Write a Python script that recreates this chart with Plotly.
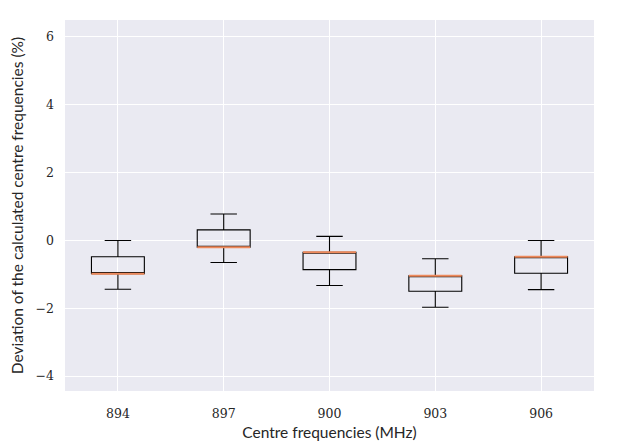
import plotly.graph_objects as go

# centre frequencies (MHz) and the box statistics of the deviation (%)
freqs = [894, 897, 900, 903, 906]
upper_whisker = [0.00, 0.78, 0.12, -0.54, 0.00]
q3 = [-0.48, 0.31, -0.35, -1.04, -0.48]
median = [-0.98, -0.20, -0.35, -1.04, -0.48]
q1 = [-0.98, -0.20, -0.86, -1.50, -0.97]
lower_whisker = [-1.44, -0.65, -1.33, -1.97, -1.45]

pos = list(range(1, len(freqs) + 1))
box_w = 0.5

fig = go.Figure()
for i, p in enumerate(pos):
    fig.add_trace(go.Box(
        x=[p], q1=[q1[i]], median=[median[i]], q3=[q3[i]],
        lowerfence=[lower_whisker[i]], upperfence=[upper_whisker[i]],
        width=box_w, whiskerwidth=0.5,
        line=dict(color="black", width=1.1),
        fillcolor="rgba(0,0,0,0)", showlegend=False, hoverinfo="skip",
    ))

# orange median lines, like matplotlib
mx, my = [], []
for p, m in zip(pos, median):
    mx += [p - box_w / 2, p + box_w / 2, None]
    my += [m, m, None]
fig.add_trace(go.Scatter(x=mx, y=my, mode="lines",
                         line=dict(color="#EE8A5C", width=2),
                         showlegend=False, hoverinfo="skip"))

# page body has an 8px margin, so the figure is a little smaller
fig.update_layout(
    width=615, height=433,
    margin=dict(l=57, r=29, t=12, b=50),
    paper_bgcolor="white", plot_bgcolor="#EAEAF2",
    font=dict(family="DejaVu Serif", size=12.5, color="#262626"),
)
fig.update_xaxes(
    range=[0.5, 5.5], tickvals=pos, ticktext=[str(f) for f in freqs],
    showgrid=True, gridcolor="white", gridwidth=1.2, zeroline=False,
    ticks="", showline=False, ticklabelstandoff=13, automargin=False,
    title=dict(text="Centre frequencies (MHz)", standoff=7,
               font=dict(family="Lato", size=15.5, color="#262626")),
)
fig.update_yaxes(
    range=[-4.44, 6.5], tickvals=[-4, -2, 0, 2, 4, 6],
    showgrid=True, gridcolor="white", gridwidth=1.2, zeroline=False,
    ticks="", showline=False, ticklabelstandoff=10, automargin=False,
    title=dict(text="Deviation of the calculated centre frequencies (%)", standoff=9,
               font=dict(family="Lato", size=15.5, color="#262626")),
)

fig.write_html("out.html")
